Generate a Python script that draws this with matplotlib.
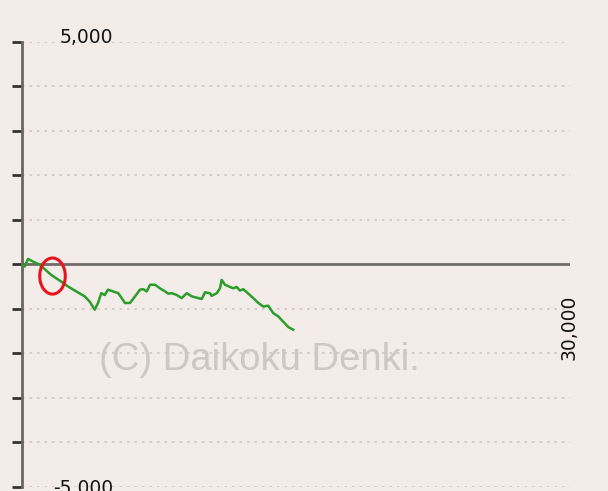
import numpy as np
import matplotlib
matplotlib.use("Agg")
import matplotlib.pyplot as plt
from matplotlib.patches import Ellipse

# slump graph data (games, medals)
games = [0, 150, 330, 600, 970, 1600, 2150, 2520, 2970, 3430, 3710, 3980,
         4160, 4340, 4530, 4710, 4980, 5270, 5640, 5910, 6190, 6460, 6640,
         6830, 7010, 7280, 7550, 7830, 8010, 8200, 8470, 8740, 9020, 9290,
         9650, 9840, 10020, 10290, 10380, 10660, 10840, 10930, 11110, 11390,
         11570, 11750, 11930, 12110, 12390, 12660, 12940, 13210, 13480,
         13760, 14030, 14300, 14580, 14850]
medals = [-20, -50, 120, 60, -10, -240, -390, -500, -610, -720, -840, -1020,
          -870, -650, -690, -570, -610, -650, -870, -870, -720, -570, -560,
          -610, -460, -460, -540, -610, -660, -650, -690, -760, -650, -720,
          -760, -780, -630, -650, -710, -650, -540, -350, -460, -510,
          -540, -510, -590, -560, -660, -760, -870, -950, -930,
          -1100, -1170, -1290, -1410, -1470]

yticks = np.arange(-5000, 5001, 1000)
x_max = 30000
bg = "#f3ece8"

fig = plt.figure(figsize=(6.08, 4.91), dpi=100, facecolor=bg)
ax = fig.add_axes([22 / 608, 1 - 487 / 491, 548 / 608, 445.5 / 491])
ax.set_facecolor(bg)
ax.set_xlim(0, x_max)
ax.set_ylim(-5000, 5000)

for v in yticks:
    if v != 0:
        ax.axhline(v, color="#cdc8c4", lw=1.2, linestyle=(0, (1.5, 3)), zorder=1)
ax.axhline(0, color="#6f6b69", lw=2, zorder=2)

ax.plot(games, medals, color="#2a9d2a", lw=1.8, zorder=3)

for s in ["top", "right", "bottom"]:
    ax.spines[s].set_visible(False)
ax.spines["left"].set_color("#6a6664")
ax.spines["left"].set_linewidth(2)
ax.set_yticks(yticks)
ax.set_yticklabels([])
ax.set_xticks([])
ax.tick_params(axis="y", direction="out", length=7, width=2, color="#333333")

for val, lab, dy in [(5000, "5,000", 4), (-5000, "-5,000", -1)]:
    ax.annotate(lab, xy=(0, val), xycoords=("axes fraction", "data"),
                xytext=(91, dy), textcoords="offset pixels",
                ha="right", va="center", fontsize=13.5, color="#151515",
                annotation_clip=False)

ax.annotate("30,000", xy=(1, 0), xycoords=("axes fraction", "data"),
            xytext=(-1, -63), textcoords="offset pixels", rotation=90,
            ha="center", va="center", fontsize=13.5, color="#151515")

ax.text(0.434, 0.285, "(C) Daikoku Denki.", transform=ax.transAxes,
        ha="center", va="center", fontsize=27.5, family="Liberation Sans",
        color="#cdc8c4", zorder=0)

ax.add_patch(Ellipse((1670, -265), 1400, 810, fill=False,
                     edgecolor="#e8141c", lw=2.2, zorder=4, clip_on=False))

fig.savefig("out.png", dpi=100, facecolor=bg)
